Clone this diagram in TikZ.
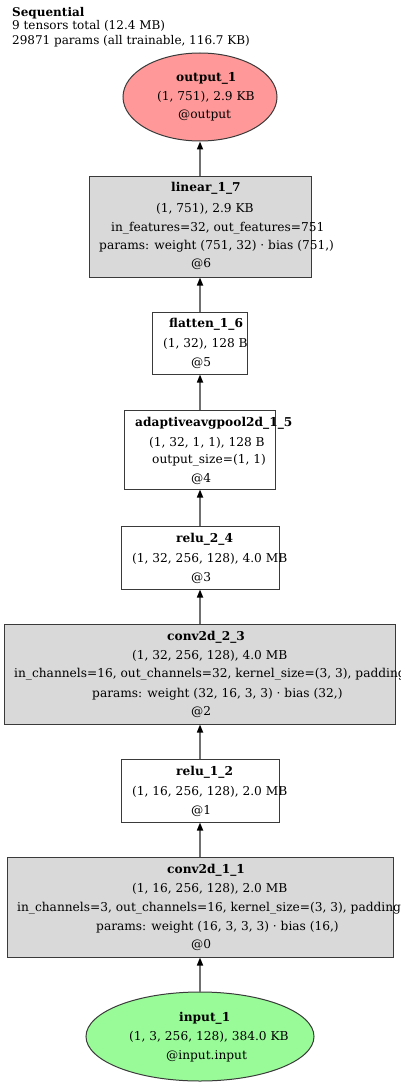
\documentclass[tikz,border=0pt]{standalone}
\usepackage{fontspec}
\setmainfont{DejaVu Serif}
\usetikzlibrary{arrows.meta,shapes.geometric}
\definecolor{boxgray}{HTML}{D9D9D9}
\definecolor{outred}{HTML}{FF9999}
\definecolor{ingreen}{HTML}{98FB98}
\definecolor{bordercol}{HTML}{3A3A3A}
\definecolor{edgecol}{HTML}{707070}
\tikzset{
  lbl/.style={anchor=base west, inner sep=0pt, font=\fontsize{12.2}{14}\selectfont},
  ttl/.style={anchor=base west, inner sep=0pt, font=\fontsize{12}{14}\selectfont},
  layerbox/.style={draw=bordercol, line width=1pt, fill=white, rectangle, inner sep=0pt},
  graybox/.style={layerbox, fill=boxgray},
  ellnode/.style={draw=bordercol, line width=1pt, ellipse, inner sep=0pt},
  edge/.style={draw=edgecol, line width=1.6pt, -{Triangle[length=8pt,width=6pt,color=black]}}
}
\begin{document}
\begin{tikzpicture}[x=1pt,y=-1pt]
\useasboundingbox (0,0) rectangle (400,1086);
% title
\node[ttl] (title1) at (12,17) {\bfseries Sequential};
\node[ttl] (title2) at (12,30) {9 tensors total (12.4 MB)};
\node[ttl] (title3) at (12,45) {29871 params (all trainable, 116.7 KB)};
% shapes
\node[ellnode, fill=outred, minimum width=154pt, minimum height=88pt] (output) at (200,97) {};
\node[graybox, minimum width=222pt, minimum height=100pt] (linear) at (200,227) {};
\node[layerbox, minimum width=95pt, minimum height=62pt] (flatten) at (200,343) {};
\node[layerbox, minimum width=151pt, minimum height=79pt] (pool) at (200,449.5) {};
\node[layerbox, minimum width=158pt, minimum height=63pt] (relu2) at (200,557.5) {};
\node[graybox, minimum width=391pt, minimum height=100pt] (conv2) at (200,674) {};
\node[layerbox, minimum width=158pt, minimum height=63pt] (relu1) at (200,790.5) {};
\node[graybox, minimum width=386pt, minimum height=100pt] (conv1) at (200,907) {};
\node[ellnode, fill=ingreen, minimum width=228pt, minimum height=89pt] (input) at (200,1036.5) {};
% edges
\draw[edge] (input) -- (conv1);
\draw[edge] (conv1) -- (relu1);
\draw[edge] (relu1) -- (conv2);
\draw[edge] (conv2) -- (relu2);
\draw[edge] (relu2) -- (pool);
\draw[edge] (pool) -- (flatten);
\draw[edge] (flatten) -- (linear);
\draw[edge] (linear) -- (output);
% output text
\node[lbl] (o1) at (176,82) {\bfseries output\_1};
\node[lbl] (o2) at (157,101) {(1, 751), 2.9 KB};
\node[lbl] (o3) at (178,119) {@output};
% linear text
\node[lbl] (l1) at (171,192) {\bfseries linear\_1\_7};
\node[lbl] (l2) at (156,212) {(1, 751), 2.9 KB};
\node[lbl] (l3) at (111,231) {in\_features=32, out\_features=751};
\node[lbl] (l4) at (99,249) {params: weight (751, 32) · bias (751,)};
\node[lbl] (l5) at (191,267) {@6};
% flatten text
\node[lbl] (f1) at (169,327) {\bfseries flatten\_1\_6};
\node[lbl] (f2) at (163,347) {(1, 32), 128 B};
\node[lbl] (f3) at (191,366) {@5};
% pool text
\node[lbl] (p1) at (135,426) {\bfseries adaptiveavgpool2d\_1\_5};
\node[lbl] (p2) at (149,446) {(1, 32, 1, 1), 128 B};
\node[lbl] (p3) at (152,463) {output\_size=(1, 1)};
\node[lbl] (p4) at (191,482) {@4};
% relu2 text
\node[lbl] (r21) at (176,542) {\bfseries relu\_2\_4};
\node[lbl] (r22) at (132,562) {(1, 32, 256, 128), 4.0 MB};
\node[lbl] (r23) at (191,581) {@3};
% conv2 text
\node[lbl] (c21) at (167,640) {\bfseries conv2d\_2\_3};
\node[lbl] (c22) at (132,659) {(1, 32, 256, 128), 4.0 MB};
\node[lbl] (c23) at (14,677) {in\_channels=16, out\_channels=32, kernel\_size=(3, 3), padding=(1, 1)};
\node[lbl] (c24) at (92,697) {params: weight (32, 16, 3, 3) · bias (32,)};
\node[lbl] (c25) at (191,715) {@2};
% relu1 text
\node[lbl] (r11) at (176,775) {\bfseries relu\_1\_2};
\node[lbl] (r12) at (132,795) {(1, 16, 256, 128), 2.0 MB};
\node[lbl] (r13) at (191,814) {@1};
% conv1 text
\node[lbl] (c11) at (167,873) {\bfseries conv2d\_1\_1};
\node[lbl] (c12) at (132,892) {(1, 16, 256, 128), 2.0 MB};
\node[lbl] (c13) at (17,911) {in\_channels=3, out\_channels=16, kernel\_size=(3, 3), padding=(1, 1)};
\node[lbl] (c14) at (96,930) {params: weight (16, 3, 3, 3) · bias (16,)};
\node[lbl] (c15) at (191,948) {@0};
% input text
\node[lbl] (i1) at (179,1021) {\bfseries input\_1};
\node[lbl] (i2) at (129,1040) {(1, 3, 256, 128), 384.0 KB};
\node[lbl] (i3) at (166,1059) {@input.input};
\end{tikzpicture}
\end{document}
